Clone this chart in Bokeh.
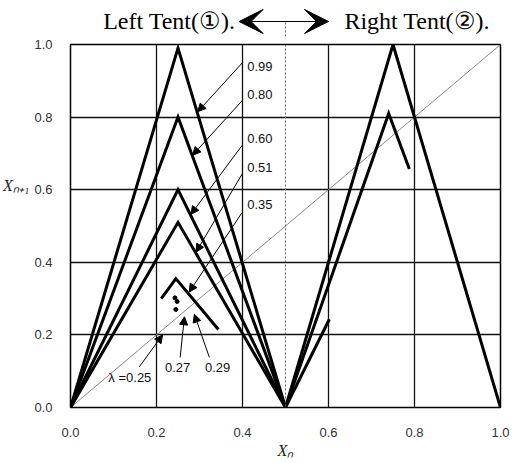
from bokeh.plotting import figure
from bokeh.layouts import column
from bokeh.models import (FixedTicker, PrintfTickFormatter, Span, Arrow, VeeHead,
                          NormalHead, Range1d)
from bokeh.core.properties import value
from bokeh.embed import file_html
from bokeh.resources import INLINE

# ---------------- data ----------------
ticks = [0.0, 0.2, 0.4, 0.6, 0.8, 1.0]

# left tent: full tents for these lambda values (vertex x / peak y)
tent_x = [0.0, 0.25, 0.5]
tent_labels = ["0.99", "0.80", "0.60", "0.51"]
tent_peaks = [0.99, 0.80, 0.60, 0.51]

# partial piece for lambda = 0.35
part35_x = [0.211, 0.245, 0.344]
part35_y = [0.300, 0.355, 0.215]

# periodic points (0.27, 0.29)
dots_x = [0.243, 0.248, 0.245]
dots_y = [0.302, 0.292, 0.270]

# right tent pieces
right_full_x = [0.5, 0.75, 1.0]
right_full_y = [0.0, 1.0, 0.0]
right_part_x = [0.5, 0.74, 0.788]
right_part_y = [0.0, 0.81, 0.657]
right_short_x = [0.5, 0.602]
right_short_y = [0.0, 0.243]

# diagonal
diag_x = [0.0, 1.0]
diag_y = [0.0, 1.0]

# annotations: label text, label pos, arrow tail, arrow head
ann_text = ["0.99", "0.80", "0.60", "0.51", "0.35"]
ann_lx = [0.411, 0.411, 0.411, 0.411, 0.411]
ann_ly = [0.940, 0.863, 0.740, 0.662, 0.558]
ann_tx = [0.400, 0.399, 0.399, 0.399, 0.399]
ann_ty = [0.950, 0.845, 0.722, 0.643, 0.537]
ann_hx = [0.296, 0.284, 0.280, 0.292, 0.276]
ann_hy = [0.815, 0.695, 0.532, 0.428, 0.318]

low_text = ["\u03bb =0.25", "0.27", "0.29"]
low_lx = [0.138, 0.249, 0.342]
low_ly = [0.083, 0.110, 0.110]
low_tx = [0.160, 0.255, 0.323]
low_ty = [0.112, 0.138, 0.138]
low_hx = [0.214, 0.265, 0.288]
low_hy = [0.200, 0.250, 0.257]

# header
head_text = ["Left Tent(\u2460).", "Right Tent(\u2461)."]
head_x = [0.076, 0.637]
head_arrow_x = [0.392, 0.600]

LEFT, RIGHT = 67, 25
HEAD_H = 36

# ---------------- header figure ----------------
h = figure(width=525, height=HEAD_H, output_backend="svg", toolbar_location=None,
           x_range=Range1d(0, 1), y_range=Range1d(0, HEAD_H),
           min_border_left=LEFT, min_border_right=RIGHT, min_border_top=0,
           min_border_bottom=0, x_axis_location=None, y_axis_location=None,
           background_fill_color="white", border_fill_color="white")
h.outline_line_color = None
h.xgrid.visible = False
h.ygrid.visible = False
h.text(x=head_x, y=[16, 16], text=head_text, text_font=value("Liberation Serif"),
       text_font_size="24px", text_color="black", text_baseline="middle", text_align="left")
h.segment(x0=[0.5], y0=[0], x1=[0.5], y1=[15], line_color="#666666", line_width=1,
          line_dash="2 2")
h.add_layout(Arrow(start=VeeHead(size=24, fill_color="black", line_color="black"),
                   end=VeeHead(size=24, fill_color="black", line_color="black"),
                   x_start=head_arrow_x[0], y_start=15, x_end=head_arrow_x[1], y_end=15,
                   line_color="black", line_width=1))

# ---------------- main figure ----------------
p = figure(width=525, height=463 - HEAD_H, x_range=Range1d(0, 1), y_range=Range1d(0, 1),
           output_backend="svg", toolbar_location=None,
           min_border_left=LEFT, min_border_right=RIGHT,
           min_border_top=8, min_border_bottom=56,
           background_fill_color="white", border_fill_color="white")
p.outline_line_color = "black"
p.outline_line_width = 1.5

for ax in (p.xaxis[0], p.yaxis[0]):
    ax.ticker = FixedTicker(ticks=ticks)
    ax.formatter = PrintfTickFormatter(format="%.1f")
    ax.major_tick_line_color = None
    ax.minor_tick_line_color = None
    ax.axis_line_color = None
    ax.major_label_text_font = "Liberation Sans"
    ax.major_label_text_font_size = "13px"
    ax.major_label_text_color = "#333333"
    ax.axis_label_text_font = "Liberation Serif"
    ax.axis_label_text_font_style = "italic"
    ax.axis_label_text_font_size = "16px"
    ax.axis_label_text_color = "#222222"
p.xaxis.major_label_standoff = 14
p.yaxis.major_label_standoff = 12
p.xaxis.axis_label = "X\u2099"
p.xaxis.axis_label_standoff = 2
p.yaxis.axis_label = "X\u2099\u208a\u2081\n \n \n \n "
p.yaxis.axis_label_orientation = "horizontal"
p.yaxis.axis_label_standoff = 2

for g in (p.xgrid[0], p.ygrid[0]):
    g.ticker = FixedTicker(ticks=ticks[1:-1])
    g.grid_line_color = "#111111"
    g.grid_line_width = 1.3

# dotted center line
p.add_layout(Span(location=0.5, dimension="height", line_color="#666666",
                  line_width=1, line_dash="2 2"))

# diagonal
p.line(diag_x, diag_y, line_color="#888888", line_width=1)

# left tents
for pk in tent_peaks:
    p.line(tent_x, [0.0, pk, 0.0], line_color="black", line_width=3, line_join="miter")
p.line(part35_x, part35_y, line_color="black", line_width=3, line_join="miter")
p.scatter(dots_x, dots_y, size=4, color="black")

# right tents
p.line(right_full_x, right_full_y, line_color="black", line_width=3, line_join="miter")
p.line(right_part_x, right_part_y, line_color="black", line_width=3, line_join="miter")
p.line(right_short_x, right_short_y, line_color="black", line_width=3, line_join="miter")

# annotation arrows + labels
for tx, ty, hx, hy in zip(ann_tx + low_tx, ann_ty + low_ty, ann_hx + low_hx, ann_hy + low_hy):
    p.add_layout(Arrow(end=NormalHead(size=8, fill_color="black", line_color="black"),
                       x_start=tx, y_start=ty, x_end=hx, y_end=hy,
                       line_color="black", line_width=1))
p.text(x=ann_lx, y=ann_ly, text=ann_text, text_font=value("Liberation Sans"),
       text_font_size="13px", text_color="#111111", text_baseline="middle", text_align="left")
p.text(x=low_lx, y=low_ly, text=low_text, text_font=value("Liberation Sans"),
       text_font_size="13px", text_color="#111111", text_baseline="middle", text_align="center")

layout = column(h, p, spacing=0)
open("out.html", "w").write(file_html(layout, INLINE))
